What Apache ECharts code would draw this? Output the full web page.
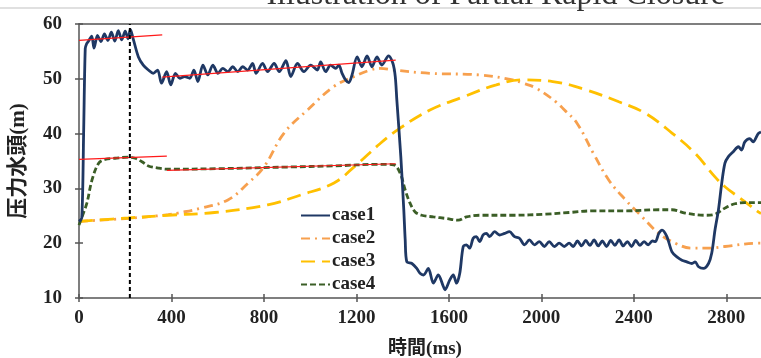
<!DOCTYPE html>
<html><head><meta charset="utf-8">
<script src="https://cdn.jsdelivr.net/npm/echarts@6/dist/echarts.min.js"></script>
<style>html,body{margin:0;padding:0;background:#fff}#c{width:761px;height:358px}</style>
</head><body><div id="c"></div>
<script>
const titleText = 'Illustration of Partial Rapid Closure';
const xAxisTitle = '時間(ms)';
const yAxisTitle = '压力水頭(m)';
const seriesNames = ['case1', 'case2', 'case3', 'case4'];
const xTicks = [0, 400, 800, 1200, 1600, 2000, 2400, 2800];

const case1Time = [0, 12, 20, 27, 33, 40, 55, 65, 80, 95, 110, 125, 140, 155, 170, 185, 200, 212, 222, 235, 257, 278, 300, 321, 340, 357, 379, 397, 417, 436, 457, 479, 497, 514, 536, 557, 579, 601, 622, 644, 665, 687, 708, 730, 751, 766, 794, 816, 844, 866, 895, 916, 945, 973, 1002, 1031, 1045, 1067, 1088, 1110, 1124, 1138, 1153, 1167, 1181, 1203, 1224, 1246, 1267, 1289, 1310, 1339, 1358, 1368, 1375, 1392, 1405, 1411, 1418, 1440, 1461, 1475, 1490, 1511, 1533, 1554, 1576, 1583, 1604, 1619, 1633, 1647, 1662, 1676, 1690, 1705, 1719, 1733, 1748, 1762, 1776, 1798, 1819, 1841, 1862, 1884, 1905, 1927, 1948, 1970, 1991, 2013, 2034, 2056, 2077, 2099, 2120, 2138, 2156, 2174, 2192, 2210, 2228, 2246, 2264, 2282, 2300, 2318, 2336, 2354, 2372, 2390, 2408, 2426, 2444, 2462, 2480, 2493, 2508, 2522, 2543, 2565, 2586, 2608, 2629, 2651, 2665, 2680, 2701, 2723, 2737, 2751, 2766, 2780, 2794, 2809, 2830, 2852, 2866, 2880, 2901, 2916, 2938, 2950];
const case1Head = [24.0, 24.6, 40.0, 55.5, 56.4, 56.8, 57.8, 55.6, 57.9, 56.8, 58.2, 57.0, 58.5, 56.9, 58.8, 57.1, 58.7, 57.3, 59.0, 57.2, 54.0, 52.5, 51.6, 51.0, 51.6, 49.2, 51.3, 48.9, 51.0, 50.1, 50.4, 50.1, 51.6, 49.5, 52.5, 50.7, 52.5, 51.0, 51.9, 51.3, 52.2, 51.3, 52.2, 51.6, 52.8, 51.0, 52.8, 51.3, 52.8, 51.3, 53.3, 50.4, 52.8, 51.3, 52.5, 51.6, 53.1, 51.3, 52.5, 51.9, 52.5, 51.0, 49.8, 49.3, 50.7, 54.0, 52.2, 54.2, 52.2, 54.0, 52.5, 54.2, 52.8, 50.4, 46.0, 35.8, 26.0, 20.6, 16.6, 16.3, 15.4, 14.5, 14.2, 15.4, 12.7, 14.2, 12.1, 11.5, 13.3, 14.2, 12.7, 14.5, 19.4, 19.7, 19.1, 20.9, 21.2, 20.3, 21.5, 21.8, 21.2, 22.1, 21.5, 21.8, 22.1, 21.2, 20.9, 19.7, 20.6, 19.7, 20.3, 19.4, 20.3, 19.4, 20.0, 19.4, 20.0, 19.4, 20.4, 19.5, 20.5, 19.6, 20.6, 19.5, 20.4, 19.4, 20.5, 19.6, 20.6, 19.5, 20.3, 19.4, 20.5, 19.6, 20.3, 19.7, 20.4, 20.3, 21.8, 22.4, 21.2, 18.4, 17.5, 16.9, 16.6, 16.3, 16.6, 15.7, 15.4, 16.3, 18.2, 22.4, 26.1, 30.9, 34.6, 35.8, 36.7, 37.6, 37.0, 38.5, 39.1, 38.5, 40.0, 40.3];

const case2Time = [0, 200, 386, 428, 529, 644, 730, 801, 887, 988, 1103, 1189, 1260, 1303, 1361, 1518, 1733, 1876, 1920, 1977, 2063, 2100, 2154, 2225, 2292, 2364, 2436, 2508, 2579, 2651, 2723, 2794, 2938, 2950];
const case2Head = [24.0, 24.5, 25.2, 25.5, 26.4, 27.9, 30.9, 34.0, 40.1, 44.3, 48.6, 50.4, 51.6, 51.9, 51.6, 51.0, 50.7, 49.8, 49.2, 48.3, 45.8, 44.3, 41.9, 36.4, 31.5, 27.9, 24.8, 21.8, 20.0, 19.1, 19.1, 19.4, 20.0, 20.0];

const case3Time = [0, 213, 386, 586, 816, 959, 1103, 1200, 1303, 1389, 1518, 1662, 1805, 1920, 2049, 2192, 2335, 2450, 2565, 2665, 2751, 2794, 2880, 2938, 2950];
const case3Head = [24.0, 24.6, 25.1, 25.6, 27.0, 28.8, 31.0, 34.3, 38.2, 41.0, 44.3, 46.7, 48.9, 49.8, 49.5, 48.0, 45.8, 43.7, 40.1, 36.4, 32.1, 30.3, 27.6, 25.7, 25.4];

const case4Time = [0, 13, 34, 56, 85, 113, 156, 213, 243, 271, 300, 343, 386, 600, 900, 1100, 1303, 1361, 1389, 1411, 1432, 1454, 1482, 1533, 1590, 1640, 1676, 1733, 1876, 2019, 2120, 2221, 2364, 2508, 2565, 2622, 2708, 2751, 2794, 2837, 2880, 2938, 2950];
const case4Head = [23.3, 24.8, 27.3, 31.5, 34.6, 35.3, 35.5, 35.7, 35.5, 34.9, 34.1, 33.7, 33.5, 33.6, 33.9, 34.1, 34.4, 34.3, 32.8, 29.7, 27.3, 25.7, 25.1, 24.8, 24.5, 24.2, 24.8, 25.1, 25.1, 25.3, 25.6, 25.9, 25.9, 26.1, 26.1, 25.5, 25.1, 25.3, 26.4, 27.2, 27.4, 27.4, 27.4];

const refLine1Time = [0, 360];   const refLine1Head = [57.0, 58.0];
const refLine2Time = [0, 380];   const refLine2Head = [35.3, 35.9];
const refLine3Time = [360, 1370]; const refLine3Head = [50.3, 53.4];
const refLine4Time = [380, 1370]; const refLine4Head = [33.3, 34.5];
const markerTime = [220, 220];   const markerHead = [10, 60];

const pairs = (t, h) => t.map((x, i) => [x, h[i]]);

const serifBold = { fontFamily: "'Liberation Serif', 'Noto Sans CJK JP'", fontWeight: 'bold', color: '#222' };
const axisColor = '#555';

const chart = echarts.init(document.getElementById('c'), null, { renderer: 'canvas' });

const lineSeries = (name, t, h, color, type, width, smooth, z) => ({
  name, type: 'line', data: pairs(t, h), symbol: 'none', showSymbol: false,
  smooth, z, lineStyle: { color, type, width }, itemStyle: { color }, animation: false
});
const refSeries = (t, h) => ({
  type: 'line', data: pairs(t, h), symbol: 'none', silent: true, z: 10,
  lineStyle: { color: '#ff1a1a', width: 1.2 }, animation: false
});

chart.setOption({
  animation: false,
  backgroundColor: '#fff',
  grid: { left: 77, top: 24, right: 0, bottom: 60 },
  graphic: [
    { type: 'line', shape: { x1: 0, y1: 8, x2: 761, y2: 8 }, style: { stroke: '#d6d6d6', lineWidth: 1.5 } },
    { type: 'text', x: 725, y: -4, style: { text: titleText, font: "32px 'Liberation Serif'", fill: '#333', textAlign: 'right', textVerticalAlign: 'middle' } },
    { type: 'text', x: 425, y: 349, style: { text: xAxisTitle, font: "bold 19px 'Liberation Serif', 'Noto Sans CJK JP'", fill: '#222', textAlign: 'center', textVerticalAlign: 'middle' } }
  ],
  legend: {
    data: seriesNames, orient: 'vertical', left: 295, top: 201,
    itemWidth: 29, itemHeight: 14, itemGap: 4,
    itemStyle: { color: 'rgba(0,0,0,0)', borderWidth: 0, opacity: 0 },
    textStyle: Object.assign({ fontSize: 19, padding: [0, 0, 0, -3] }, serifBold)
  },
  xAxis: [
    { type: 'value', min: 0, max: 2950, position: 'bottom',
      axisLine: { show: true, onZero: false, lineStyle: { color: axisColor, width: 1.5 } },
      axisTick: { show: true, inside: false, length: 4, customValues: xTicks, lineStyle: { color: axisColor, width: 1.5 } },
      axisLabel: Object.assign({ customValues: xTicks, margin: 11, fontSize: 19, formatter: v => String(v) }, serifBold),
      splitLine: { show: false } },
    { type: 'value', min: 0, max: 2950, position: 'bottom',
      axisLine: { show: false, onZero: false },
      axisTick: { show: true, inside: true, length: 4, customValues: xTicks, lineStyle: { color: axisColor, width: 1.5 } },
      axisLabel: { show: false }, splitLine: { show: false } },
    { type: 'value', min: 0, max: 2950, position: 'top',
      axisLine: { show: true, onZero: false, lineStyle: { color: axisColor, width: 1.5 } },
      axisTick: { show: false }, axisLabel: { show: false }, splitLine: { show: false } }
  ],
  yAxis: [
    { type: 'value', min: 10, max: 60, interval: 10, position: 'left',
      axisLine: { show: true, onZero: false, lineStyle: { color: axisColor, width: 1.5 } },
      axisTick: { show: true, inside: false, length: 4, lineStyle: { color: axisColor, width: 1.5 } },
      axisLabel: Object.assign({ margin: 17, fontSize: 19, formatter: v => String(v) }, serifBold),
      splitLine: { show: false },
      name: yAxisTitle, nameLocation: 'middle', nameGap: 50,
      nameTextStyle: Object.assign({ fontSize: 21 }, serifBold) },
    { type: 'value', min: 10, max: 60, interval: 10, position: 'left',
      axisLine: { show: false, onZero: false },
      axisTick: { show: true, inside: true, length: 4, lineStyle: { color: axisColor, width: 1.5 } },
      axisLabel: { show: false }, splitLine: { show: false } }
  ],
  series: [
    lineSeries('case2', case2Time, case2Head, '#f7a04e', [9, 5, 2, 5], 2.8, 0.4, 2),
    lineSeries('case3', case3Time, case3Head, '#ffc000', [14, 7], 2.8, 0.4, 3),
    lineSeries('case4', case4Time, case4Head, '#3b5e26', [6, 3], 2.8, 0.35, 4),
    lineSeries('case1', case1Time, case1Head, '#1f3864', 'solid', 2.8, 0.3, 5),
    refSeries(refLine1Time, refLine1Head),
    refSeries(refLine2Time, refLine2Head),
    refSeries(refLine3Time, refLine3Head),
    refSeries(refLine4Time, refLine4Head),
    { type: 'line', data: pairs(markerTime, markerHead), symbol: 'none', silent: true, z: 11,
      lineStyle: { color: '#000', width: 2, type: [4, 3] }, animation: false }
  ]
});
</script>
</body></html>
